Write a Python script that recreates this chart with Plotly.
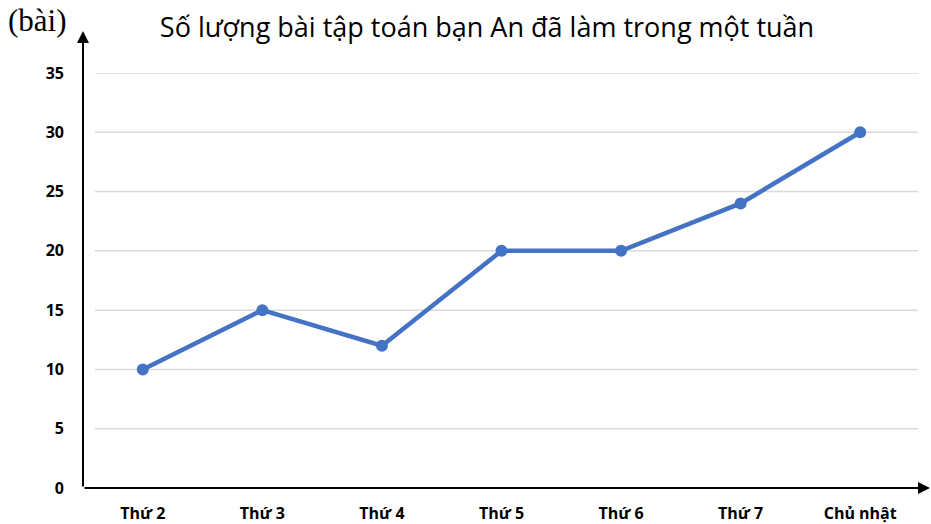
import plotly.graph_objects as go

categories = ["Thứ 2", "Thứ 3", "Thứ 4", "Thứ 5", "Thứ 6", "Thứ 7", "Chủ nhật"]
values = [10, 15, 12, 20, 20, 24, 30]
y_ticks = [0, 5, 10, 15, 20, 25, 30, 35]

W, H = 931, 524
L, R, T, B = 83, 11, 73, 36
pw = W - L - R
ph = H - T - B

fig = go.Figure()
fig.add_trace(go.Scatter(
    x=categories, y=values, mode="lines+markers",
    line=dict(color="#4472C4", width=4.5),
    marker=dict(color="#4472C4", size=12),
    showlegend=False, cliponaxis=False,
))

shapes = []
for t in y_ticks[1:]:
    shapes.append(dict(type="line", xref="paper", yref="y",
                       x0=(95 - L) / pw, x1=(918 - L) / pw, y0=t, y1=t,
                       line=dict(color="#D9D9D9", width=1.5), layer="below"))

tick_font = dict(family="Open Sans", size=16, color="#000000", weight="bold")

fig.update_layout(
    width=W, height=H,
    margin=dict(l=L, r=R, t=T, b=B, autoexpand=False),
    plot_bgcolor="white", paper_bgcolor="white",
    shapes=shapes,
    title=dict(text="Số lượng bài tập toán bạn An đã làm trong một tuần",
               x=487 / W, xanchor="center", y=1 - 28 / H, yanchor="middle",
               font=dict(family="Open Sans", size=27, color="#000000")),
    xaxis=dict(type="category", range=[-0.5, 6.5], showgrid=False,
               showline=False, zeroline=False, ticks="", automargin=False,
               tickfont=tick_font, ticklabelstandoff=14),
    yaxis=dict(range=[0, 35], tickvals=y_ticks, showgrid=False,
               showline=False, zeroline=False, ticks="", automargin=False,
               tickfont=tick_font, ticklabelstandoff=18),
    annotations=[
        dict(xref="paper", yref="paper", x=0, y=(488 - 31) / ph, ax=0, ay=(488 - 31),
             axref="pixel", ayref="pixel", showarrow=True, arrowhead=2, arrowsize=1.2,
             arrowwidth=2, arrowcolor="#000000", text=""),
        dict(xref="paper", yref="paper", x=(931 - L) / pw, y=0, ax=-(931 - L), ay=0,
             axref="pixel", ayref="pixel", showarrow=True, arrowhead=2, arrowsize=1.2,
             arrowwidth=2, arrowcolor="#000000", text=""),
        dict(xref="paper", yref="paper", x=(6 - L) / pw, y=(488 - 21) / ph,
             xanchor="left", yanchor="middle", showarrow=False, text="(bài)",
             font=dict(family="Liberation Serif", size=31, color="#000000")),
    ],
)

fig.write_html("out.html", config={"displayModeBar": False},
               post_script="document.body.style.margin='0';")
